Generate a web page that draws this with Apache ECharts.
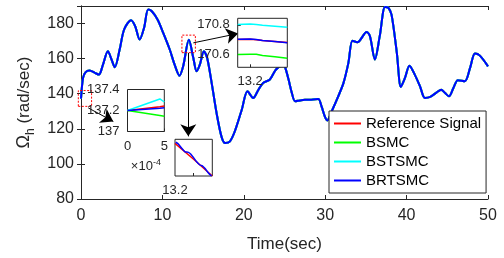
<!DOCTYPE html>
<html>
<head>
<meta charset="utf-8">
<script src="https://cdn.jsdelivr.net/npm/echarts@6/dist/echarts.min.js"></script>
<style>
  html, body { margin: 0; padding: 0; background: #fff; }
  #chart { width: 504px; height: 258px; }
</style>
</head>
<body>
<div id="chart"></div>
<script>
// main trace (all four controllers overlap at this scale)
const timeSec = [0, 0.25, 0.55, 1.05, 1.7, 2.2, 2.7, 3.3, 3.75, 4.15, 4.75, 5.3, 6.15, 6.65, 7.2, 7.75, 8.25, 8.7,
  9.4, 10.1, 10.9, 11.5, 12.1, 12.55, 13.25, 13.8, 14.2, 14.6, 15.1, 15.5, 16.05, 16.65, 17.25, 17.7, 18.3, 18.9,
  19.75, 20.45, 21.15, 21.8, 22.4, 23.2, 23.9, 24.5, 24.85, 25.1, 25.5, 25.9, 26.3, 26.9, 27.5, 28.3, 29.15, 29.55,
  29.95, 30.25, 30.8, 31.6, 32.25, 32.85, 33.35, 33.95, 35.1, 35.5, 36.1, 36.7, 37.35, 37.75, 38.15, 38.8, 39.3,
  39.8, 40.35, 41.0, 41.65, 42.25, 42.9, 43.7, 44.25, 44.7, 45.2, 45.75, 46.3, 47.15, 47.8, 48.4, 49.0, 50];
const omegaRef = [137.2, 149, 152.2, 153.2, 151.9, 150.9, 156.6, 164.2, 159.5, 155.1, 165.2, 176.6, 181.9, 178.5, 170.9, 177.6, 188, 187,
  182.3, 174.7, 165.2, 156.6, 150.3, 155.6, 170.7, 160.4, 152.8, 156.6, 164.2, 160.4, 146.2, 129.1, 115.7, 111.9, 112.9, 118.6,
  130.9, 141.4, 137.6, 142.3, 146.2, 148.1, 153.5, 156, 157, 154.7, 148.1, 140.5, 135.7, 136.2, 136.6, 136.6, 137, 132.8,
  127.1, 124.8, 130, 138.5, 146.2, 157.6, 170.2, 169.3, 175.2, 172.8, 159.5, 172.8, 189.5, 189, 185.1, 163.3, 143.9,
  149, 156, 150.9, 144.2, 137.6, 138.2, 140.8, 142.3, 140.5, 138.5, 143.3, 147.7, 147.1, 154.7, 162.9, 161.7, 155.6];

// inset 1 : start of the run (x in 1e-4 s)
const startX = [0, 4.4, 5];
const startRef = [137.2, 137.235, 137.242];
const startBsmc = [137.2, 137.152, 137.145];
const startBstsmc = [137.2, 137.31, 137.281];
const startBrtsmc = [137.2, 137.221, 137.226];

// inset 2 : peak near 13.2 s
const peakX = [13.19, 13.2, 13.205, 13.21, 13.22, 13.23];
const peakRef = [170.700, 170.702, 170.699, 170.693, 170.686, 170.679];
const peakBsmc = [170.597, 170.600, 170.599, 170.590, 170.582, 170.572];
const peakBstsmc = [170.803, 170.806, 170.803, 170.797, 170.790, 170.783];
const peakBrtsmc = [170.701, 170.703, 170.700, 170.694, 170.686, 170.678];

// inset 3 : falling edge after 13.2 s (no y scale shown)
const fallRefX = [13.2, 13.25, 13.3];
const fallRef = [0.89, 0.455, 0];
const fallCtrlX = [13.202, 13.209, 13.218, 13.227, 13.236, 13.242, 13.249, 13.258, 13.267, 13.274, 13.28, 13.289, 13.298];
const fallCtrl = [0.92, 0.87, 0.755, 0.66, 0.645, 0.6, 0.51, 0.39, 0.3, 0.27, 0.21, 0.09, 0.0];

// zoom boxes and arrows, in main-axis units
const zoomBoxA = [-0.33, 1.3, 132.8, 141.8];
const zoomBoxB = [12.4, 14.05, 163.4, 173.4];
const arrowLines = [
  [[0.9, 131.9], [3.97, 124.2]],
  [[13.8, 169], [19.3, 174.3]],
  [[13.18, 163.3], [13.18, 115.7]]
];

const names = ['Reference Signal', 'BSMC', 'BSTSMC', 'BRTSMC'];
const colors = ['#ff0000', '#00ff00', '#00ffff', '#0000ff'];
const ink = '#262626';
const font = 'Liberation Sans, Arial, sans-serif';

const pairs = (xs, ys) => xs.map((x, i) => [x, ys[i]]);
const boxPath = b => [[b[0], b[2]], [b[1], b[2]], [b[1], b[3]], [b[0], b[3]], [b[0], b[2]]];

const chart = echarts.init(document.getElementById('chart'), null, { renderer: 'canvas' });

function insetAxis(gridIndex, min, max, labelValues, tickValues, showLabel) {
  return {
    type: 'value', gridIndex: gridIndex, min: min, max: max, z: 11,
    axisLine: { show: false },
    splitLine: { show: false },
    axisTick: { show: true, inside: true, length: 3, lineStyle: { color: ink }, customValues: tickValues },
    axisLabel: { show: showLabel, color: ink, fontSize: 13, fontFamily: font, customValues: labelValues }
  };
}

const insetGrid = (left, top, width, height) => ({
  left: left, top: top, width: width, height: height, show: true, z: 10,
  backgroundColor: '#fff', borderColor: ink, borderWidth: 1
});

const mainSeries = names.map((n, i) => ({
  name: n, type: 'line', xAxisIndex: 0, yAxisIndex: 0,
  data: pairs(timeSec, omegaRef), smooth: 0.3, symbol: 'none',
  lineStyle: { color: colors[i], width: 2 }, itemStyle: { color: colors[i] }, z: 2 + i
}));

const insetLine = (n, xi, data, w) => ({
  name: n, type: 'line', xAxisIndex: xi, yAxisIndex: xi, data: data,
  symbol: 'none', lineStyle: { color: colors[names.indexOf(n)], width: w || 1.5 },
  itemStyle: { color: colors[names.indexOf(n)] }, z: 12, silent: true
});

const option = {
  animation: false,
  backgroundColor: '#fff',
  textStyle: { fontFamily: font },
  grid: [
    { left: 81, top: 6, right: 16, bottom: 59 },
    insetGrid(127.5, 89.5, 36.8, 42),
    insetGrid(237.7, 18.3, 49.6, 49),
    insetGrid(175, 139.3, 37.3, 36.7)
  ],
  legend: {
    data: names, orient: 'vertical', left: 329, top: 111,
    padding: [5, 5, 5, 4], itemGap: 4, itemWidth: 27, itemHeight: 16,
    backgroundColor: '#fff', borderColor: ink, borderWidth: 1, z: 20,
    itemStyle: { opacity: 0 },
    lineStyle: { width: 2 },
    textStyle: { fontSize: 15, color: '#000', fontFamily: font }
  },
  xAxis: [
    {
      type: 'value', gridIndex: 0, min: 0, max: 50, interval: 10,
      name: 'Time(sec)', nameLocation: 'middle', nameGap: 37,
      nameTextStyle: { fontSize: 17, color: ink, fontFamily: font },
      axisLine: { lineStyle: { color: ink } },
      axisTick: { inside: true, length: 4, lineStyle: { color: ink } },
      axisLabel: { color: ink, fontSize: 16, margin: 9, fontFamily: font },
      splitLine: { show: false }
    },
    {
      type: 'value', gridIndex: 0, position: 'top', min: 0, max: 50, interval: 10,
      axisLine: { lineStyle: { color: ink } },
      axisTick: { inside: true, length: 4, lineStyle: { color: ink } },
      axisLabel: { show: false }, splitLine: { show: false }
    },
    Object.assign(insetAxis(1, 0, 5, [0, 5], [0, 5], true), {
      name: '×10{sup|-4}', nameLocation: 'middle', nameGap: 27,
      nameTextStyle: { color: ink, fontSize: 13, fontFamily: font, rich: { sup: { fontSize: 9, verticalAlign: 'top', padding: [0, 0, 6, 0], color: ink } } }
    }),
    insetAxis(2, 13.19, 13.23, [13.2], [13.2], true),
    insetAxis(3, 13.2, 13.3, [13.2], [13.25], true)
  ],
  yAxis: [
    {
      type: 'value', gridIndex: 0, min: 80, max: 190, interval: 20,
      name: '{o|Ω}{s|h} (rad/sec)', nameLocation: 'middle', nameGap: 41,
      nameTextStyle: {
        fontSize: 17, color: ink, fontFamily: font, lineHeight: 24,
        rich: {
          o: { fontSize: 18, color: ink, fontFamily: font, verticalAlign: 'middle' },
          s: { fontSize: 12, color: ink, verticalAlign: 'bottom', padding: [8, 0, 0, 0] }
        }
      },
      axisLine: { lineStyle: { color: ink } },
      axisTick: { inside: true, length: 4, lineStyle: { color: ink } },
      axisLabel: { color: ink, fontSize: 16, margin: 7, fontFamily: font, showMaxLabel: false },
      splitLine: { show: false }
    },
    {
      type: 'value', gridIndex: 0, position: 'right', min: 80, max: 190, interval: 20,
      axisLine: { lineStyle: { color: ink } },
      axisTick: { inside: true, length: 4, lineStyle: { color: ink } },
      axisLabel: { show: false }, splitLine: { show: false }
    },
    insetAxis(1, 137, 137.4, [137, 137.2, 137.4], [137.2], true),
    insetAxis(2, 170.51, 170.845, [170.6, 170.8], [170.6, 170.8], true),
    insetAxis(3, 0, 1, [], [], false)
  ],
  series: mainSeries.concat([
    {
      type: 'lines', coordinateSystem: 'cartesian2d', xAxisIndex: 0, yAxisIndex: 0,
      polyline: true, clip: false, silent: true, z: 6,
      lineStyle: { color: '#ff0000', width: 1, type: [2, 1.5], opacity: 1 },
      data: [{ coords: boxPath(zoomBoxA) }, { coords: boxPath(zoomBoxB) }]
    },
    {
      type: 'lines', coordinateSystem: 'cartesian2d', xAxisIndex: 0, yAxisIndex: 0,
      clip: false, silent: true, z: 7,
      symbol: ['none', 'arrow'], symbolSize: 12,
      lineStyle: { color: '#000', width: 1, opacity: 1 },
      data: arrowLines.map(c => ({ coords: c }))
    },
    insetLine('Reference Signal', 2, pairs(startX, startRef)),
    insetLine('BSMC', 2, pairs(startX, startBsmc)),
    insetLine('BSTSMC', 2, pairs(startX, startBstsmc)),
    insetLine('BRTSMC', 2, pairs(startX, startBrtsmc)),
    insetLine('Reference Signal', 3, pairs(peakX, peakRef)),
    insetLine('BSMC', 3, pairs(peakX, peakBsmc)),
    insetLine('BSTSMC', 3, pairs(peakX, peakBstsmc)),
    insetLine('BRTSMC', 3, pairs(peakX, peakBrtsmc)),
    insetLine('Reference Signal', 4, pairs(fallRefX, fallRef)),
    Object.assign(insetLine('BRTSMC', 4, pairs(fallCtrlX, fallCtrl)), { smooth: 0.3 })
  ])
};

chart.setOption(option);
</script>
</body>
</html>
